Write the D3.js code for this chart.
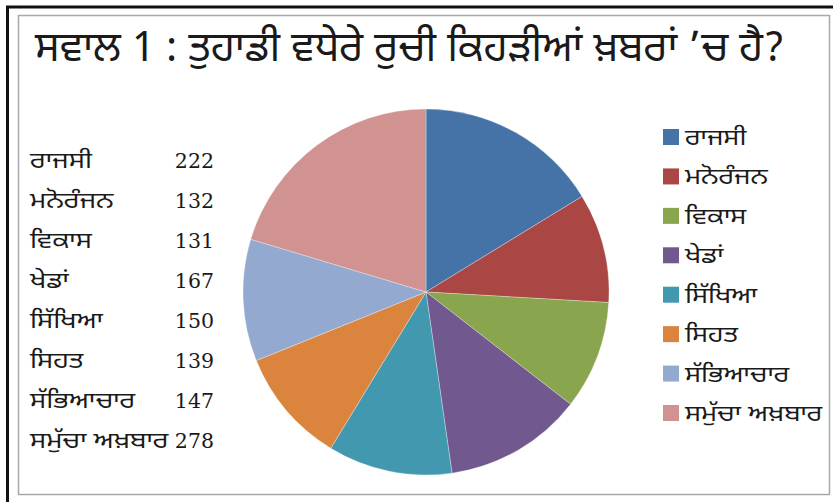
<!DOCTYPE html>
<html>
<head>
<meta charset="utf-8">
<script src="https://cdn.jsdelivr.net/npm/d3@7"></script>
<style>
  html, body { margin: 0; padding: 0; background: #fff; }
  svg { display: block; }
  .gur { font-family: "Noto Sans Gurmukhi", "Lohit Gurmukhi", "Noto Sans", sans-serif; fill: #1a1a1a; }
  .num { font-family: "DejaVu Serif", "Liberation Serif", serif; fill: #1a1a1a; }
</style>
</head>
<body>
<svg id="chart" width="833" height="502"></svg>
<script>
const title = "ਸਵਾਲ 1 : ਤੁਹਾਡੀ ਵਧੇਰੇ ਰੁਚੀ ਕਿਹੜੀਆਂ ਖ਼ਬਰਾਂ ’ਚ ਹੈ?";
const categories = ["ਰਾਜਸੀ", "ਮਨੋਰੰਜਨ", "ਵਿਕਾਸ", "ਖੇਡਾਂ", "ਸਿੱਖਿਆ", "ਸਿਹਤ", "ਸੱਭਿਆਚਾਰ", "ਸਮੁੱਚਾ ਅਖ਼ਬਾਰ"];
const values = [222, 132, 131, 167, 150, 139, 147, 278];
const colors = ["#4572A7", "#AA4643", "#89A54E", "#71588F", "#4198AF", "#DB843D", "#93A9CF", "#D19392"];

const svg = d3.select("#chart");
const W = 833, H = 502;

// widen a text's glyphs by a factor (matches the reference typeface's proportions)
function stretch(sel, f) {
  sel.each(function() {
    const w = this.getComputedTextLength();
    d3.select(this).attr("textLength", w * f).attr("lengthAdjust", "spacingAndGlyphs");
  });
}

// frame
svg.append("rect").attr("x", 18.5).attr("y", 15.5).attr("width", 811).attr("height", 479)
  .attr("fill", "none").attr("stroke", "#a8a8a8").attr("stroke-width", 1.5);
svg.append("line").attr("x1", 6).attr("x2", W).attr("y1", 7).attr("y2", 7)
  .attr("stroke", "#111").attr("stroke-width", 3);
svg.append("line").attr("x1", 7.5).attr("x2", 7.5).attr("y1", 6).attr("y2", H)
  .attr("stroke", "#111").attr("stroke-width", 3);

// title: size chosen so its natural width spans the reference's 35..785
const titleText = svg.append("text").attr("class", "gur").attr("x", 35).attr("y", 61)
  .attr("font-size", 42).text(title);
const tw = titleText.node().getComputedTextLength();
titleText.attr("font-size", 42 * 750 / tw);

// data table
const rowY = d3.scalePoint().domain(d3.range(categories.length)).range([160, 440]);
const table = svg.append("g");
table.selectAll("text.lab").data(categories).join("text")
  .attr("class", "gur lab").attr("x", 30).attr("y", (d, i) => rowY(i) + 8)
  .attr("font-size", 23).text(d => d)
  .call(stretch, 1.18);
table.selectAll("text.val").data(values).join("text")
  .attr("class", "num val").attr("x", 214).attr("y", (d, i) => rowY(i) + 7.5)
  .attr("text-anchor", "end").attr("font-size", 20.5).text(d => d);

// pie
const cx = 426, cy = 292, r = 183;
const pie = d3.pie().sort(null).value(d => d)(values);
const arc = d3.arc().innerRadius(0).outerRadius(r);
svg.append("g").attr("transform", `translate(${cx},${cy})`)
  .selectAll("path").data(pie).join("path")
  .attr("d", arc).attr("fill", (d, i) => colors[i])
  .attr("stroke", "#ffffff").attr("stroke-opacity", 0.5).attr("stroke-width", 0.6);

// legend
const legY = d3.scalePoint().domain(d3.range(categories.length)).range([137, 413]);
const leg = svg.append("g");
leg.selectAll("rect").data(categories).join("rect")
  .attr("x", 663).attr("y", (d, i) => legY(i) - 8).attr("width", 16).attr("height", 16)
  .attr("fill", (d, i) => colors[i]);
leg.selectAll("text").data(categories).join("text")
  .attr("class", "gur").attr("x", 685).attr("y", (d, i) => legY(i) + 8)
  .attr("font-size", 23).text(d => d)
  .call(stretch, 1.17);
</script>
</body>
</html>
